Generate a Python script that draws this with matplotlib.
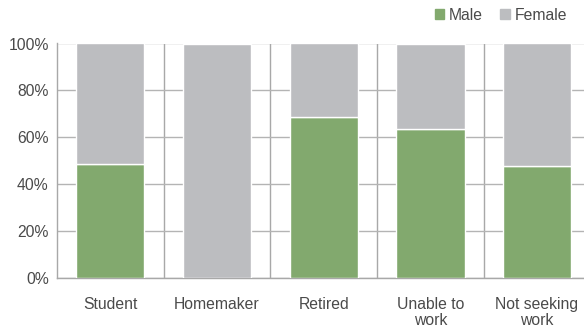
import matplotlib.pyplot as plt
import numpy as np
from matplotlib.patches import Patch

categories = ["Student", "Homemaker", "Retired", "Unable to\nwork", "Not seeking\nwork"]
male = [48.7, 0.0, 68.5, 63.5, 47.6]
female = [100 - m for m in male]

green = "#82a96e"
grey = "#bcbdc0"
text_col = "#4a4a4a"
line_col = "#b4b4b4"

plt.rcParams["font.family"] = ["Liberation Sans", "DejaVu Sans"]

fig = plt.figure(figsize=(5.84, 3.30), dpi=100)
ax = fig.add_axes([57 / 584, 52 / 330, 1 - 57 / 584, 234.5 / 330])

x = np.arange(len(categories))
# no white edge on empty segments
male_lw = [1 if m > 0 else 0 for m in male]
ax.bar(x, male, width=0.64, color=green, edgecolor="white", linewidth=male_lw, zorder=3)
ax.bar(x, female, width=0.64, bottom=male, color=grey, edgecolor="white",
       linewidth=1, zorder=3)

ax.set_xlim(-0.5, 4.44)
ax.set_ylim(0, 100)
ax.set_yticks(range(0, 101, 20))
ax.set_yticklabels([f"{v}%" for v in range(0, 101, 20)])
ax.set_xticks(x)
ax.set_xticklabels(categories, linespacing=1.05)
ax.set_xticks(x[:-1] + 0.5, minor=True)

ax.grid(axis="y", color=line_col, linewidth=1, zorder=0)
ax.grid(axis="x", which="minor", color="#a8a8a8", linewidth=1, zorder=0)
ax.set_axisbelow(True)

ax.tick_params(axis="both", which="both", length=0, labelsize=11.3, colors=text_col)
ax.tick_params(axis="x", pad=14)
ax.tick_params(axis="y", pad=6)

for side in ["top", "right"]:
    ax.spines[side].set_visible(False)
for side in ["left", "bottom"]:
    ax.spines[side].set_color("#a8a8a8")
    ax.spines[side].set_linewidth(1)

handles = [Patch(color=green, label="Male"), Patch(color=grey, label="Female")]
fig.legend(handles=handles, loc="upper right", bbox_to_anchor=(0.995, 1.02),
           ncol=2, frameon=False, fontsize=11.3, handlelength=0.6,
           handleheight=0.6, handletextpad=0.3, columnspacing=1.1,
           labelcolor=text_col)

fig.savefig("out.png", dpi=100)
